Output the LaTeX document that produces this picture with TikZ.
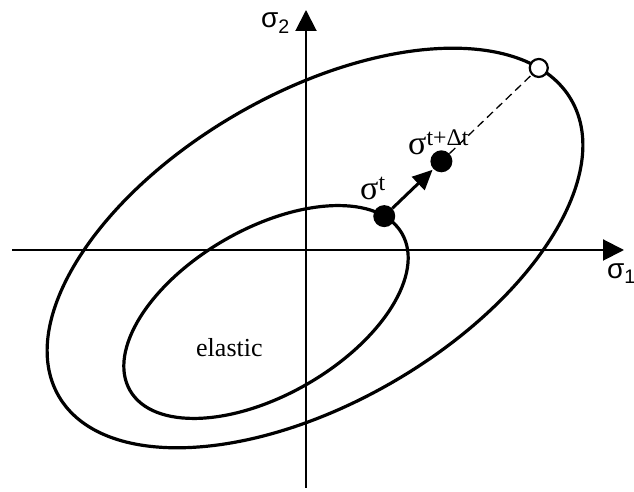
\documentclass[tikz,border=0pt]{standalone}
\usepackage{fontspec}
\setmainfont{Liberation Serif}
\setsansfont{Liberation Sans}
\usetikzlibrary{arrows.meta,calc}
\newcommand\myfs[1]{\fontsize{#1}{#1}\selectfont}
\begin{document}
\begin{tikzpicture}[x=1pt,y=1pt,
  curve/.style={line width=3.2pt},
  axis/.style={line width=2pt,-{Triangle[length=21pt,width=21pt]}},
  dot/.style={circle,fill=black,inner sep=0pt,minimum size=22pt},
  odot/.style={circle,draw=black,fill=white,line width=2.2pt,inner sep=0pt,minimum size=18pt},
  lbl/.style={inner sep=0pt}]
\useasboundingbox (0,0) rectangle (634,492);
\coordinate (xs) at (12,242);
\coordinate (xe) at (624,242);
\coordinate (ys) at (306,4);
\coordinate (ye) at (306,482);
\draw[axis] (xs) -- (xe);
\draw[axis] (ys) -- (ye);
\begin{scope}[shift={(315,244)},rotate=30]
  \draw[curve] (0,0) ellipse [x radius=296, y radius=155];
  \coordinate (pc) at ({296*cos(16.5)},{155*sin(16.5)});
\end{scope}
\begin{scope}[shift={(266,180)},rotate=30]
  \draw[curve] (0,0) ellipse [x radius=157, y radius=83];
  \coordinate (pa) at ({157*cos(16.75)},{83*sin(16.75)});
\end{scope}
\coordinate (pb) at ($(pa)!0.37!(pc)$);
\node[dot] (sa) at (pa) {};
\node[dot] (sb) at (pb) {};
\draw[line width=1.3pt,dash pattern=on 8pt off 5pt] (sb) -- (pc);
\node[odot] (sc) at (pc) {};
\draw[line width=3pt,-{Triangle[length=20pt,width=18pt]},shorten >=1pt] (sa) -- (sb);
\node[lbl,anchor=base west,font=\sffamily\myfs{28}] (l2) at (261,464) {σ\textsubscript{2}};
\node[lbl,anchor=base west,font=\sffamily\myfs{28}] (l1) at (607,213) {σ\textsubscript{1}};
\node[lbl,anchor=base west,font=\myfs{34}] (lt) at (360,292) {σ\textsuperscript{t}};
\node[lbl,anchor=base west,font=\myfs{34}] (ltd) at (408,337) {σ\textsuperscript{t+Δt}};
\node[lbl,anchor=base west,font=\myfs{26}] (el) at (196,135) {elastic};
\end{tikzpicture}
\end{document}
